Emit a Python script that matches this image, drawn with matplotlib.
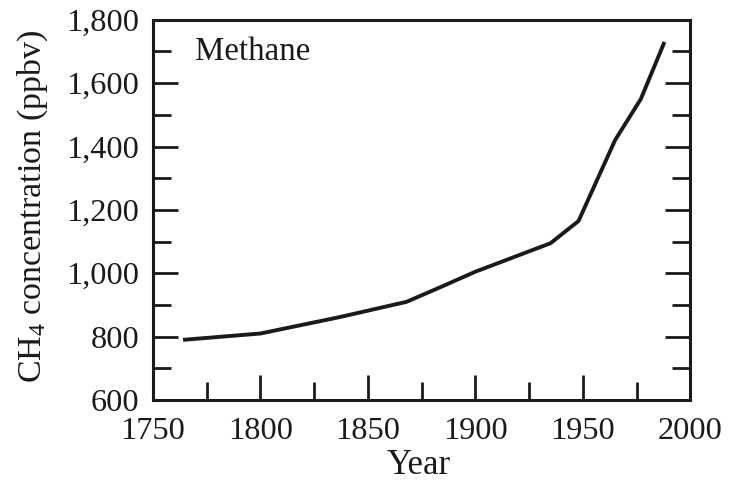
import matplotlib
matplotlib.use("Agg")
import matplotlib.pyplot as plt
from matplotlib.ticker import MultipleLocator, FuncFormatter

# values
years = [1764, 1800, 1837, 1868, 1884, 1900, 1935, 1948, 1965, 1977, 1988]
ch4_ppbv = [790, 810, 862, 910, 957, 1005, 1095, 1165, 1420, 1550, 1730]

x_range = (1750, 2000)
y_range = (600, 1800)
label_text = "Methane"
x_title = "Year"
y_title = r"CH$_\mathregular{4}$ concentration (ppbv)"

plt.rcParams["font.family"] = ["Liberation Serif", "DejaVu Serif"]
plt.rcParams["mathtext.fontset"] = "custom"
plt.rcParams["mathtext.rm"] = "Liberation Serif"
plt.rcParams["mathtext.it"] = "Liberation Serif:italic"

fig = plt.figure(figsize=(7.32, 4.82), dpi=100)
ax = fig.add_axes([0.209, 0.170, 0.734, 0.789])

ax.plot(years, ch4_ppbv, color="#1a1a1a", linewidth=2.8, solid_capstyle="butt")

ax.set_xlim(*x_range)
ax.set_ylim(*y_range)

ax.xaxis.set_major_locator(MultipleLocator(50))
ax.xaxis.set_minor_locator(MultipleLocator(25))
ax.yaxis.set_major_locator(MultipleLocator(200))
ax.yaxis.set_minor_locator(MultipleLocator(100))
ax.yaxis.set_major_formatter(FuncFormatter(lambda v, p: f"{int(v):,}"))

for s in ax.spines.values():
    s.set_linewidth(2.2)
    s.set_color("#1a1a1a")

ax.tick_params(axis="both", which="both", direction="in", color="#1a1a1a",
               labelsize=23.3, labelcolor="#1a1a1a")
ax.tick_params(axis="x", which="both", bottom=True, top=False, pad=12)
ax.tick_params(axis="y", which="both", left=True, right=True, pad=10)
ax.tick_params(which="major", length=18, width=2)
ax.tick_params(which="minor", length=13, width=2)

ax.text(0.078, 0.916, label_text, transform=ax.transAxes, fontsize=23.7,
        color="#1a1a1a", va="center", ha="left")

ax.set_xlabel(x_title, fontsize=25, color="#1a1a1a", va="center")
ax.xaxis.set_label_coords(0.495, -0.171)
ax.set_ylabel(y_title, fontsize=24.5, color="#1a1a1a", va="center")
ax.yaxis.set_label_coords(-0.223, 0.51)

fig.savefig("out.png", dpi=100, facecolor="white")
